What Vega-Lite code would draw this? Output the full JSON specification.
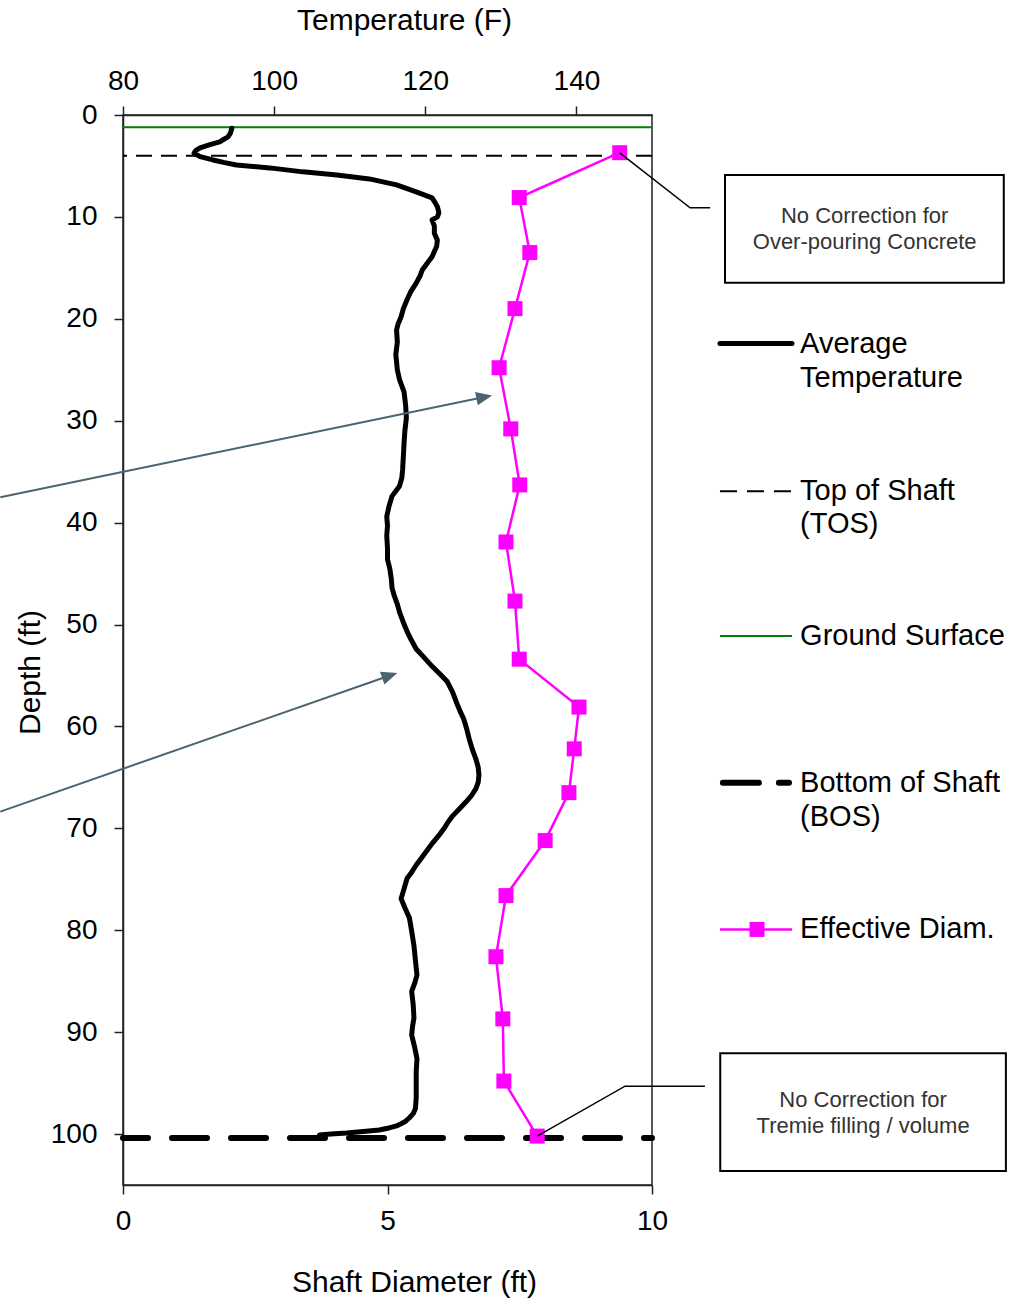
{
  "$schema": "https://vega.github.io/schema/vega-lite/v6.json",
  "width": 529,
  "height": 1070,
  "autosize": {"type": "none"},
  "padding": {"left": 123, "top": 115, "right": 363, "bottom": 115},
  "background": "white",
  "config": {
    "font": "Liberation Sans",
    "view": {"stroke": "#222", "strokeWidth": 1.5},
    "axis": {
      "grid": false,
      "labelFlush": false,
      "labelOverlap": false,
      "labelFont": "Liberation Sans",
      "titleFont": "Liberation Sans",
      "labelFontSize": 28,
      "titleFontSize": 30,
      "titleFontWeight": "normal",
      "labelColor": "#000",
      "titleColor": "#000",
      "domainColor": "#222",
      "domainWidth": 1.5,
      "tickColor": "#222",
      "tickWidth": 1.5,
      "tickSize": 9
    }
  },
  "encoding": {
    "y": {
      "field": "depth_ft",
      "type": "quantitative",
      "scale": {"domain": [0, 105], "reverse": true, "nice": false, "zero": false},
      "axis": {
        "orient": "left",
        "values": [0, 10, 20, 30, 40, 50, 60, 70, 80, 90, 100],
        "title": "Depth (ft)",
        "labelPadding": 17,
        "titleAngle": -90,
        "titleX": -93,
        "titleY": 557,
        "titleAlign": "center",
        "titleBaseline": "middle"
      }
    }
  },
  "layer": [
    {
      "layer": [
        {
          "data": {"values": [{"level": "Ground Surface", "depth_ft": 1.2}]},
          "mark": {"type": "rule", "color": "#008000", "strokeWidth": 2}
        },
        {
          "data": {"values": [{"level": "Top of Shaft (TOS)", "depth_ft": 4.0}]},
          "mark": {"type": "rule", "color": "#000", "strokeWidth": 2, "strokeDash": [16, 9]}
        },
        {
          "data": {"values": [{"level": "Bottom of Shaft (BOS)", "depth_ft": 100.4}]},
          "mark": {"type": "rule", "color": "#000", "strokeWidth": 6, "strokeDash": [35, 24], "strokeDashOffset": 27, "strokeCap": "round"}
        }
      ]
    },
    {
      "encoding": {
        "x": {
          "field": "temp_F",
          "type": "quantitative",
          "scale": {"domain": [80, 150], "nice": false, "zero": false},
          "axis": {
            "orient": "top",
            "values": [80, 100, 120, 140],
            "title": "Temperature (F)",
            "labelPadding": 11,
            "titleX": 281,
            "titleY": -95,
            "titleAlign": "center",
            "titleBaseline": "middle"
          }
        }
      },
      "layer": [
        {
          "data": {"values": [
            {"depth_ft": 1.3, "temp_F": 94.4}, {"depth_ft": 1.8, "temp_F": 94.2}, {"depth_ft": 2.15, "temp_F": 93.9},
            {"depth_ft": 2.4, "temp_F": 93.3}, {"depth_ft": 2.64, "temp_F": 92.8}, {"depth_ft": 2.9, "temp_F": 91.5},
            {"depth_ft": 3.23, "temp_F": 90.2}, {"depth_ft": 3.5, "temp_F": 89.6}, {"depth_ft": 3.75, "temp_F": 89.4},
            {"depth_ft": 4.08, "temp_F": 90.2}, {"depth_ft": 4.41, "temp_F": 91.9}, {"depth_ft": 4.65, "temp_F": 93.3},
            {"depth_ft": 4.9, "temp_F": 95.0}, {"depth_ft": 5.19, "temp_F": 99.4}, {"depth_ft": 5.58, "temp_F": 103.8},
            {"depth_ft": 5.88, "temp_F": 108.3}, {"depth_ft": 6.27, "temp_F": 112.6}, {"depth_ft": 6.86, "temp_F": 116.2},
            {"depth_ft": 7.54, "temp_F": 118.8}, {"depth_ft": 8.13, "temp_F": 120.9}, {"depth_ft": 8.6, "temp_F": 121.3},
            {"depth_ft": 9.0, "temp_F": 121.6}, {"depth_ft": 9.6, "temp_F": 121.8}, {"depth_ft": 10.0, "temp_F": 121.6},
            {"depth_ft": 10.3, "temp_F": 120.9}, {"depth_ft": 10.9, "temp_F": 121.2}, {"depth_ft": 11.6, "temp_F": 121.2},
            {"depth_ft": 12.3, "temp_F": 121.6}, {"depth_ft": 12.9, "temp_F": 121.5}, {"depth_ft": 13.4, "temp_F": 121.2},
            {"depth_ft": 13.9, "temp_F": 120.9}, {"depth_ft": 14.5, "temp_F": 120.3}, {"depth_ft": 15.2, "temp_F": 119.6},
            {"depth_ft": 15.8, "temp_F": 119.3}, {"depth_ft": 16.5, "temp_F": 118.8}, {"depth_ft": 17.3, "temp_F": 118.1},
            {"depth_ft": 18.1, "temp_F": 117.6}, {"depth_ft": 19.0, "temp_F": 117.1}, {"depth_ft": 19.8, "temp_F": 116.8},
            {"depth_ft": 20.5, "temp_F": 116.4}, {"depth_ft": 21.1, "temp_F": 116.2}, {"depth_ft": 22.3, "temp_F": 116.3},
            {"depth_ft": 23.5, "temp_F": 116.1}, {"depth_ft": 25.0, "temp_F": 116.3}, {"depth_ft": 26.0, "temp_F": 116.6},
            {"depth_ft": 27.2, "temp_F": 117.2}, {"depth_ft": 28.5, "temp_F": 117.4}, {"depth_ft": 29.7, "temp_F": 117.5},
            {"depth_ft": 31.0, "temp_F": 117.3}, {"depth_ft": 32.1, "temp_F": 117.2}, {"depth_ft": 33.5, "temp_F": 117.1},
            {"depth_ft": 34.8, "temp_F": 117.0}, {"depth_ft": 35.6, "temp_F": 116.9}, {"depth_ft": 36.4, "temp_F": 116.6},
            {"depth_ft": 37.4, "temp_F": 115.6}, {"depth_ft": 38.4, "temp_F": 115.2}, {"depth_ft": 39.4, "temp_F": 114.9},
            {"depth_ft": 40.3, "temp_F": 115.0}, {"depth_ft": 41.3, "temp_F": 114.9}, {"depth_ft": 42.5, "temp_F": 115.0},
            {"depth_ft": 43.6, "temp_F": 115.0}, {"depth_ft": 44.5, "temp_F": 115.3}, {"depth_ft": 45.5, "temp_F": 115.5},
            {"depth_ft": 46.4, "temp_F": 115.6}, {"depth_ft": 47.2, "temp_F": 115.9}, {"depth_ft": 48.0, "temp_F": 116.3},
            {"depth_ft": 48.8, "temp_F": 116.6}, {"depth_ft": 49.8, "temp_F": 117.1}, {"depth_ft": 50.7, "temp_F": 117.6},
            {"depth_ft": 51.6, "temp_F": 118.2}, {"depth_ft": 52.4, "temp_F": 118.8}, {"depth_ft": 53.2, "temp_F": 119.8},
            {"depth_ft": 54.1, "temp_F": 120.9}, {"depth_ft": 54.9, "temp_F": 122.0}, {"depth_ft": 55.6, "temp_F": 122.9},
            {"depth_ft": 56.6, "temp_F": 123.6}, {"depth_ft": 57.6, "temp_F": 124.1}, {"depth_ft": 58.5, "temp_F": 124.6},
            {"depth_ft": 59.3, "temp_F": 125.1}, {"depth_ft": 60.3, "temp_F": 125.5}, {"depth_ft": 61.2, "temp_F": 125.8},
            {"depth_ft": 62.2, "temp_F": 126.2}, {"depth_ft": 63.2, "temp_F": 126.7}, {"depth_ft": 64.0, "temp_F": 127.0},
            {"depth_ft": 64.8, "temp_F": 127.1}, {"depth_ft": 65.5, "temp_F": 127.0}, {"depth_ft": 66.1, "temp_F": 126.7},
            {"depth_ft": 66.8, "temp_F": 126.1}, {"depth_ft": 67.4, "temp_F": 125.4}, {"depth_ft": 68.1, "temp_F": 124.5},
            {"depth_ft": 68.8, "temp_F": 123.6}, {"depth_ft": 69.4, "temp_F": 123.0}, {"depth_ft": 70.0, "temp_F": 122.5},
            {"depth_ft": 70.7, "temp_F": 121.8}, {"depth_ft": 71.5, "temp_F": 120.9}, {"depth_ft": 72.3, "temp_F": 120.1},
            {"depth_ft": 73.0, "temp_F": 119.4}, {"depth_ft": 73.6, "temp_F": 118.8}, {"depth_ft": 74.3, "temp_F": 118.2},
            {"depth_ft": 74.9, "temp_F": 117.6}, {"depth_ft": 75.9, "temp_F": 117.2}, {"depth_ft": 76.9, "temp_F": 116.8},
            {"depth_ft": 77.8, "temp_F": 117.3}, {"depth_ft": 78.8, "temp_F": 117.9}, {"depth_ft": 80.1, "temp_F": 118.2},
            {"depth_ft": 81.5, "temp_F": 118.5}, {"depth_ft": 83.0, "temp_F": 118.7}, {"depth_ft": 84.4, "temp_F": 118.9},
            {"depth_ft": 85.2, "temp_F": 118.6}, {"depth_ft": 86.0, "temp_F": 118.2}, {"depth_ft": 87.3, "temp_F": 118.4},
            {"depth_ft": 88.6, "temp_F": 118.5}, {"depth_ft": 89.5, "temp_F": 118.3}, {"depth_ft": 90.3, "temp_F": 118.2},
            {"depth_ft": 91.5, "temp_F": 118.6}, {"depth_ft": 92.6, "temp_F": 118.9}, {"depth_ft": 93.9, "temp_F": 118.8},
            {"depth_ft": 95.2, "temp_F": 118.8}, {"depth_ft": 96.4, "temp_F": 118.8}, {"depth_ft": 97.5, "temp_F": 118.7},
            {"depth_ft": 98.0, "temp_F": 118.4}, {"depth_ft": 98.4, "temp_F": 117.9}, {"depth_ft": 98.8, "temp_F": 117.3},
            {"depth_ft": 99.2, "temp_F": 116.2}, {"depth_ft": 99.4, "temp_F": 115.2}, {"depth_ft": 99.6, "temp_F": 113.9},
            {"depth_ft": 99.75, "temp_F": 111.8}, {"depth_ft": 99.9, "temp_F": 109.6}, {"depth_ft": 100.0, "temp_F": 107.5},
            {"depth_ft": 100.1, "temp_F": 106.0}
          ]},
          "mark": {"type": "line", "color": "#000", "strokeWidth": 5, "strokeJoin": "round", "strokeCap": "round"},
          "encoding": {"order": {"field": "depth_ft", "type": "quantitative"}}
        },
        {
          "data": {"values": [
            {"arrow": "a", "seq": 1, "temp_F": 63.76, "depth_ft": 37.51},
            {"arrow": "a", "seq": 2, "temp_F": 127.82, "depth_ft": 27.68},
            {"arrow": "b", "seq": 1, "temp_F": 63.76, "depth_ft": 68.36},
            {"arrow": "b", "seq": 2, "temp_F": 115.31, "depth_ft": 55.0}
          ]},
          "mark": {"type": "line", "color": "#4a6470", "strokeWidth": 2},
          "encoding": {
            "detail": {"field": "arrow"},
            "order": {"field": "seq", "type": "quantitative"}
          }
        },
        {
          "data": {"values": [{"arrow": "a", "temp_F": 128.84, "depth_ft": 27.52}]},
          "mark": {"type": "point", "shape": "M0,0 L-1,-0.42 L-1,0.42 Z", "filled": true, "color": "#4a6470", "opacity": 1, "size": 1024, "angle": 348.3}
        },
        {
          "data": {"values": [{"arrow": "b", "temp_F": 116.3, "depth_ft": 54.75}]},
          "mark": {"type": "point", "shape": "M0,0 L-1,-0.42 L-1,0.42 Z", "filled": true, "color": "#4a6470", "opacity": 1, "size": 1024, "angle": 340.75}
        }
      ]
    },
    {
      "encoding": {
        "x": {
          "field": "diam_ft",
          "type": "quantitative",
          "scale": {"domain": [0, 10], "nice": false, "zero": false},
          "axis": {
            "orient": "bottom",
            "values": [0, 5, 10],
            "title": "Shaft Diameter (ft)",
            "labelPadding": 13,
            "titleX": 291,
            "titleY": 97,
            "titleAlign": "center",
            "titleBaseline": "middle"
          }
        }
      },
      "layer": [
        {
          "data": {"name": "effective_diam", "values": [
            {"depth_ft": 3.7, "diam_ft": 9.39}, {"depth_ft": 8.1, "diam_ft": 7.49}, {"depth_ft": 13.5, "diam_ft": 7.69},
            {"depth_ft": 19.0, "diam_ft": 7.41}, {"depth_ft": 24.8, "diam_ft": 7.11}, {"depth_ft": 30.8, "diam_ft": 7.33},
            {"depth_ft": 36.3, "diam_ft": 7.5}, {"depth_ft": 41.9, "diam_ft": 7.24}, {"depth_ft": 47.7, "diam_ft": 7.41},
            {"depth_ft": 53.4, "diam_ft": 7.49}, {"depth_ft": 58.1, "diam_ft": 8.62}, {"depth_ft": 62.2, "diam_ft": 8.53},
            {"depth_ft": 66.5, "diam_ft": 8.43}, {"depth_ft": 71.2, "diam_ft": 7.98}, {"depth_ft": 76.6, "diam_ft": 7.24},
            {"depth_ft": 82.6, "diam_ft": 7.05}, {"depth_ft": 88.7, "diam_ft": 7.18}, {"depth_ft": 94.8, "diam_ft": 7.2},
            {"depth_ft": 100.2, "diam_ft": 7.83}
          ]},
          "layer": [
            {
              "mark": {"type": "line", "color": "#ff00ff", "strokeWidth": 2.5},
              "encoding": {"order": {"field": "depth_ft", "type": "quantitative"}}
            },
            {
              "mark": {"type": "point", "shape": "square", "filled": true, "color": "#ff00ff", "opacity": 1, "size": 225}
            }
          ]
        },
        {
          "data": {"values": [
            {"callout": "top", "seq": 1, "diam_ft": 9.39, "depth_ft": 3.72},
            {"callout": "top", "seq": 2, "diam_ft": 10.72, "depth_ft": 9.11},
            {"callout": "top", "seq": 3, "diam_ft": 11.1, "depth_ft": 9.11},
            {"callout": "bottom", "seq": 1, "diam_ft": 7.83, "depth_ft": 100.2},
            {"callout": "bottom", "seq": 2, "diam_ft": 9.49, "depth_ft": 95.3},
            {"callout": "bottom", "seq": 3, "diam_ft": 11.0, "depth_ft": 95.3}
          ]},
          "mark": {"type": "line", "color": "#000", "strokeWidth": 1.5},
          "encoding": {
            "detail": {"field": "callout"},
            "order": {"field": "seq", "type": "quantitative"}
          }
        },
        {
          "data": {"values": [
            {"box": "top", "diam_ft": 11.38, "diam2_ft": 16.65, "depth_ft": 5.88, "depth2_ft": 16.45},
            {"box": "bottom", "diam_ft": 11.29, "diam2_ft": 16.69, "depth_ft": 92.07, "depth2_ft": 103.63}
          ]},
          "mark": {"type": "rect", "fill": "white", "stroke": "#000", "strokeWidth": 2},
          "encoding": {
            "x2": {"field": "diam2_ft"},
            "y2": {"field": "depth2_ft"}
          }
        },
        {
          "data": {"values": [
            {"note": "No Correction for", "diam_ft": 14.02, "depth_ft": 9.89},
            {"note": "Over-pouring  Concrete", "diam_ft": 14.02, "depth_ft": 12.44},
            {"note": "No Correction for", "diam_ft": 13.99, "depth_ft": 96.67},
            {"note": "Tremie filling / volume", "diam_ft": 13.99, "depth_ft": 99.22}
          ]},
          "mark": {"type": "text", "fontSize": 22, "color": "#333", "align": "center", "baseline": "middle"},
          "encoding": {"text": {"field": "note"}}
        },
        {
          "data": {"values": [{"entry": "Average Temperature", "diam_ft": 11.285, "diam2_ft": 12.646, "depth_ft": 22.43}]},
          "mark": {"type": "rule", "color": "#000", "strokeWidth": 5, "strokeCap": "round"},
          "encoding": {"x2": {"field": "diam2_ft"}}
        },
        {
          "data": {"values": [{"entry": "Top of Shaft (TOS)", "diam_ft": 11.285, "diam2_ft": 12.646, "depth_ft": 36.92}]},
          "mark": {"type": "rule", "color": "#000", "strokeWidth": 2, "strokeDash": [17, 10]},
          "encoding": {"x2": {"field": "diam2_ft"}}
        },
        {
          "data": {"values": [{"entry": "Ground Surface", "diam_ft": 11.285, "diam2_ft": 12.646, "depth_ft": 51.13}]},
          "mark": {"type": "rule", "color": "#008000", "strokeWidth": 2},
          "encoding": {"x2": {"field": "diam2_ft"}}
        },
        {
          "data": {"values": [{"entry": "Bottom of Shaft (BOS)", "diam_ft": 11.34, "diam2_ft": 12.59, "depth_ft": 65.52}]},
          "mark": {"type": "rule", "color": "#000", "strokeWidth": 6, "strokeDash": [36, 20], "strokeCap": "round"},
          "encoding": {"x2": {"field": "diam2_ft"}}
        },
        {
          "data": {"values": [{"entry": "Effective Diam.", "diam_ft": 11.285, "diam2_ft": 12.646, "depth_ft": 79.92}]},
          "mark": {"type": "rule", "color": "#ff00ff", "strokeWidth": 2.5},
          "encoding": {"x2": {"field": "diam2_ft"}}
        },
        {
          "data": {"values": [{"entry": "Effective Diam.", "diam_ft": 11.985, "depth_ft": 79.92}]},
          "mark": {"type": "point", "shape": "square", "filled": true, "color": "#ff00ff", "opacity": 1, "size": 225}
        },
        {
          "data": {"values": [
            {"label": "Average", "diam_ft": 12.8, "depth_ft": 22.43},
            {"label": "Temperature", "diam_ft": 12.8, "depth_ft": 25.76},
            {"label": "Top of Shaft", "diam_ft": 12.8, "depth_ft": 36.92},
            {"label": "(TOS)", "diam_ft": 12.8, "depth_ft": 40.16},
            {"label": "Ground Surface", "diam_ft": 12.8, "depth_ft": 51.13},
            {"label": "Bottom of Shaft", "diam_ft": 12.8, "depth_ft": 65.52},
            {"label": "(BOS)", "diam_ft": 12.8, "depth_ft": 68.85},
            {"label": "Effective Diam.", "diam_ft": 12.8, "depth_ft": 79.92}
          ]},
          "mark": {"type": "text", "fontSize": 29, "color": "#000", "align": "left", "baseline": "middle"},
          "encoding": {"text": {"field": "label"}}
        }
      ]
    }
  ],
  "resolve": {"scale": {"x": "independent"}}
}
